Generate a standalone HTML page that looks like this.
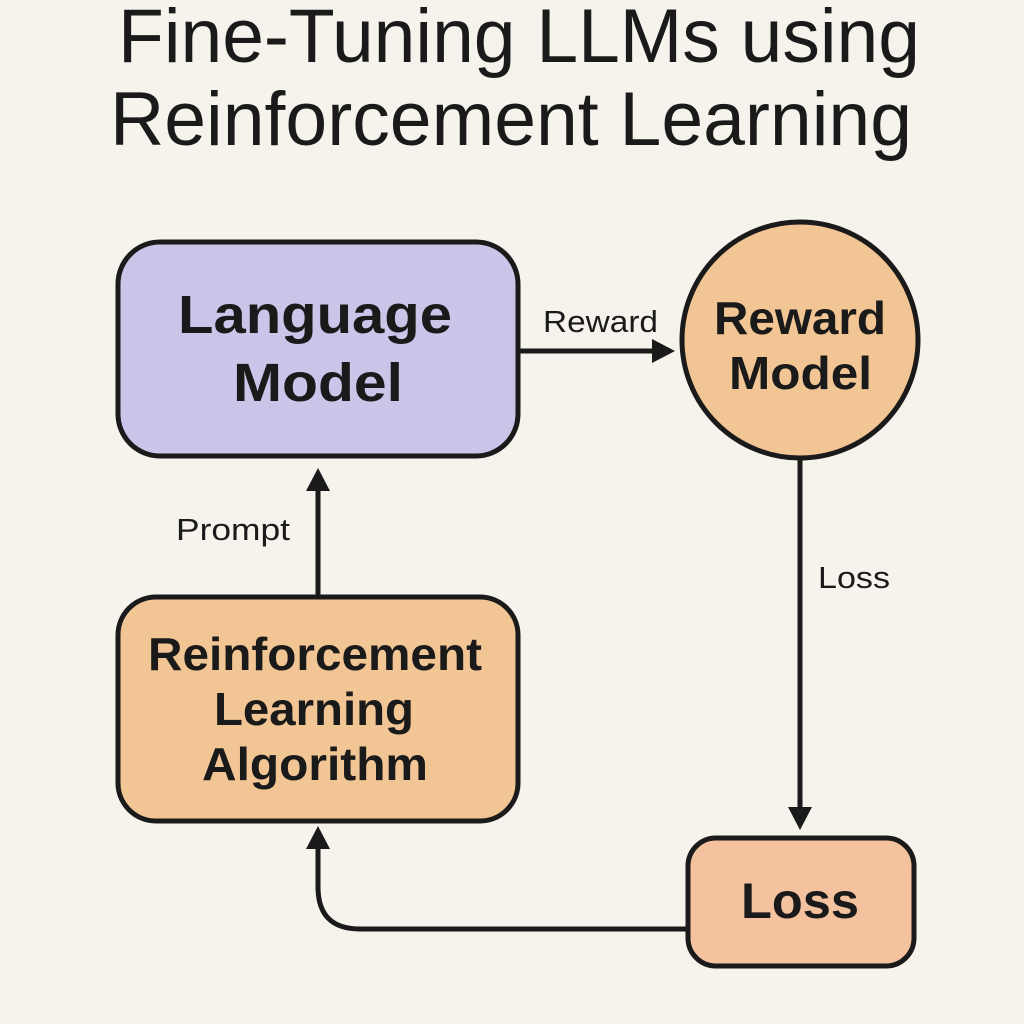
<!DOCTYPE html>
<html><head><meta charset="utf-8"><style>
html,body{margin:0;padding:0;background:#f6f3ec;}
svg{display:block}
text{font-family:"Liberation Sans",sans-serif;fill:#1a1a1a}
</style></head><body>
<svg width="1024" height="1024" viewBox="0 0 1024 1024" xmlns="http://www.w3.org/2000/svg">
<rect width="1024" height="1024" fill="#f6f3ec"/>
<text x="118" y="62" font-size="76" textLength="802" lengthAdjust="spacingAndGlyphs">Fine-Tuning LLMs using</text>
<text x="110" y="145" font-size="76" textLength="802" lengthAdjust="spacingAndGlyphs">Reinforcement Learning</text>

<rect x="118" y="242" width="400" height="214" rx="42" fill="#cdc4ea" stroke="#1a1a1a" stroke-width="5"/>
<text x="178" y="333" font-size="54" font-weight="bold" textLength="274" lengthAdjust="spacingAndGlyphs">Language</text>
<text x="233" y="401" font-size="54" font-weight="bold" textLength="170" lengthAdjust="spacingAndGlyphs">Model</text>

<circle cx="800" cy="340" r="118" fill="#f2c594" stroke="#1a1a1a" stroke-width="5"/>
<text x="714" y="334" font-size="46" font-weight="bold" textLength="172" lengthAdjust="spacingAndGlyphs">Reward</text>
<text x="729" y="389" font-size="46" font-weight="bold" textLength="143" lengthAdjust="spacingAndGlyphs">Model</text>

<rect x="118" y="597" width="400" height="224" rx="38" fill="#f2c594" stroke="#1a1a1a" stroke-width="5"/>
<text x="148" y="670" font-size="46" font-weight="bold" textLength="334" lengthAdjust="spacingAndGlyphs">Reinforcement</text>
<text x="214" y="725" font-size="46" font-weight="bold" textLength="200" lengthAdjust="spacingAndGlyphs">Learning</text>
<text x="202" y="780" font-size="46" font-weight="bold" textLength="226" lengthAdjust="spacingAndGlyphs">Algorithm</text>

<rect x="688" y="838" width="226" height="128" rx="28" fill="#f4c29e" stroke="#1a1a1a" stroke-width="5"/>
<text x="741" y="918" font-size="50" font-weight="bold" textLength="118" lengthAdjust="spacingAndGlyphs">Loss</text>

<line x1="518" y1="351" x2="655" y2="351" stroke="#1a1a1a" stroke-width="5"/>
<polygon points="675,351 652,339 652,363" fill="#1a1a1a"/>
<text x="543" y="332" font-size="31" textLength="115" lengthAdjust="spacingAndGlyphs">Reward</text>

<line x1="318" y1="597" x2="318" y2="488" stroke="#1a1a1a" stroke-width="5"/>
<polygon points="318,468 306,491 330,491" fill="#1a1a1a"/>
<text x="176" y="540" font-size="31" textLength="114" lengthAdjust="spacingAndGlyphs">Prompt</text>

<line x1="800" y1="458" x2="800" y2="810" stroke="#1a1a1a" stroke-width="5"/>
<polygon points="800,830 788,807 812,807" fill="#1a1a1a"/>
<text x="818" y="588" font-size="31" textLength="72" lengthAdjust="spacingAndGlyphs">Loss</text>

<path d="M688,929 L360,929 Q318,929 318,887 L318,845" fill="none" stroke="#1a1a1a" stroke-width="5"/>
<polygon points="318,826 306,849 330,849" fill="#1a1a1a"/>
</svg>
</body></html>
